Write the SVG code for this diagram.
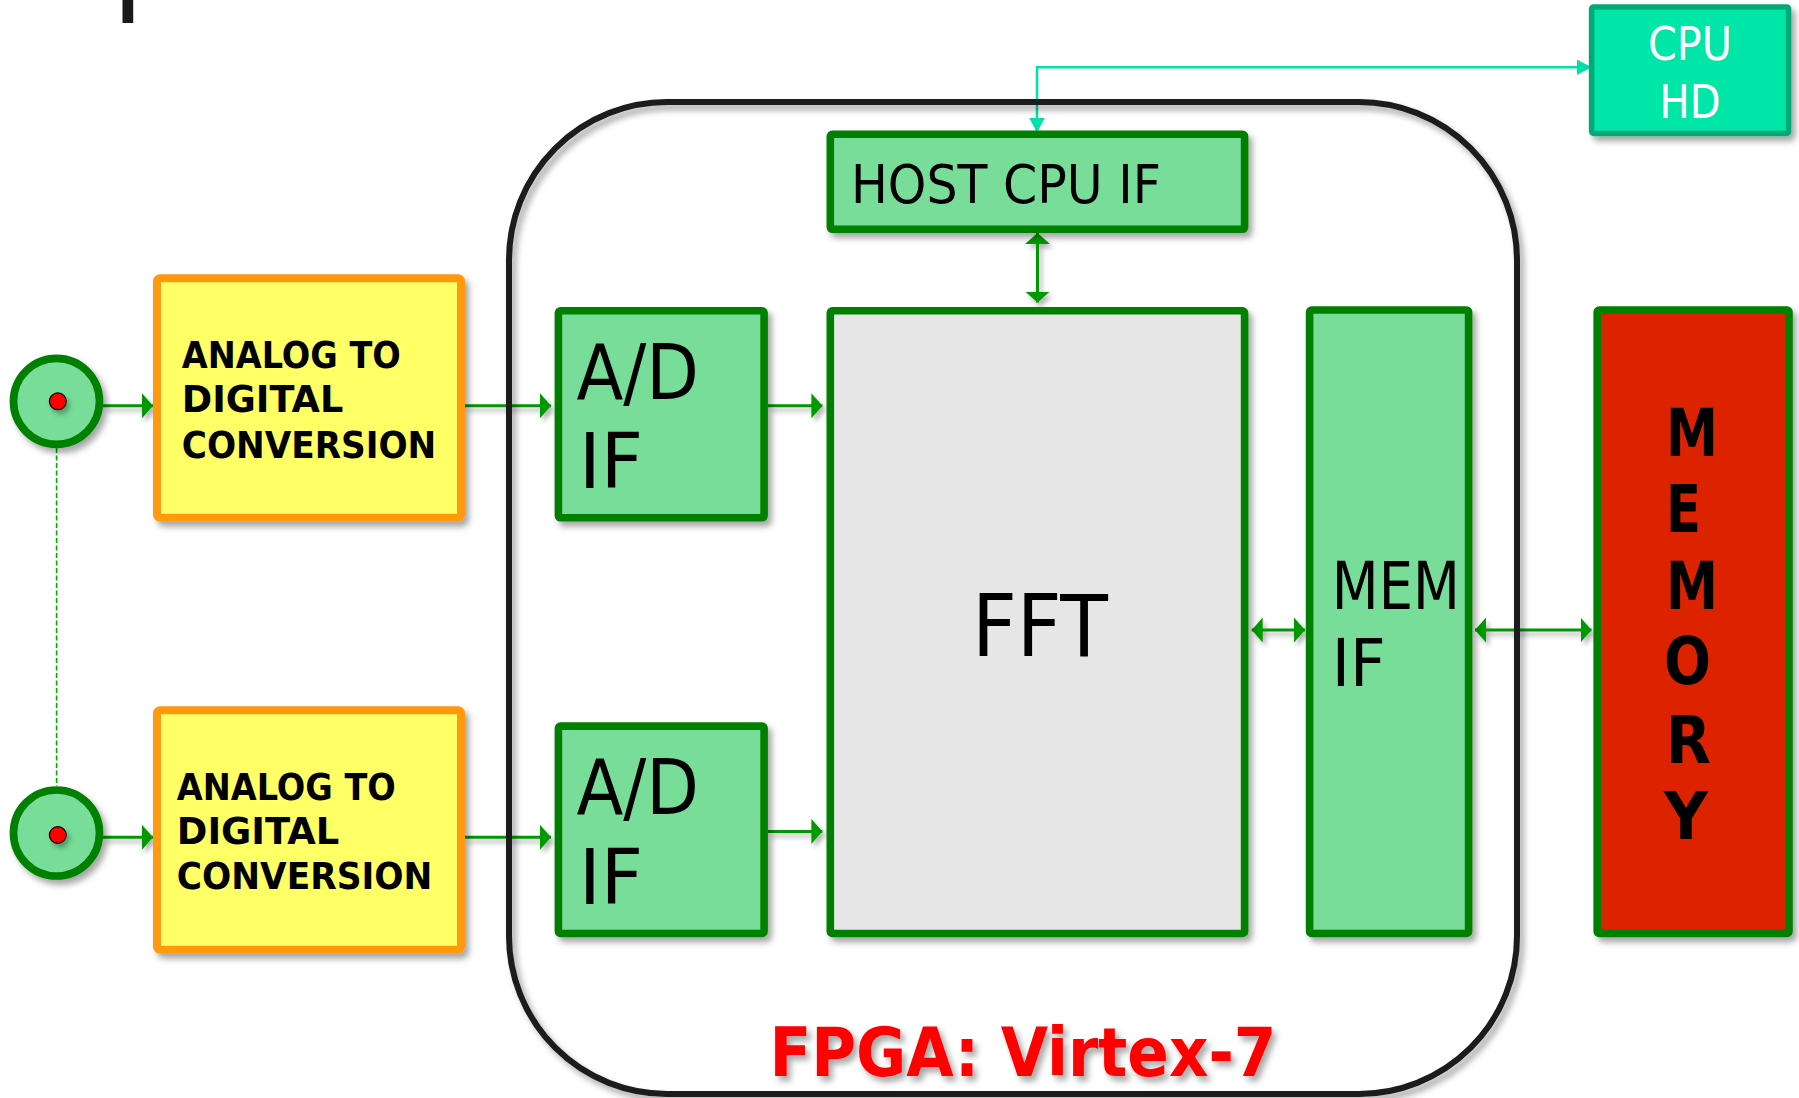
<svg xmlns="http://www.w3.org/2000/svg" width="1799" height="1098" viewBox="0 0 1799 1098">
<defs>
<filter id="sh" x="-20%" y="-20%" width="140%" height="140%">
<feDropShadow dx="4" dy="5" stdDeviation="3" flood-color="#000" flood-opacity="0.35"/>
</filter>
<filter id="shs" filterUnits="userSpaceOnUse" x="0" y="0" width="1799" height="1098">
<feDropShadow dx="3" dy="4" stdDeviation="2.5" flood-color="#000" flood-opacity="0.3"/>
</filter>
<marker id="ag" markerUnits="userSpaceOnUse" viewBox="0 0 11 25" markerWidth="11" markerHeight="25" refX="11" refY="12.5" orient="auto-start-reverse">
<path d="M0,0 L11,12.5 L0,25 z" fill="#009900"/>
</marker>
<marker id="ac" markerUnits="userSpaceOnUse" viewBox="0 0 15 16" markerWidth="15" markerHeight="16" refX="15" refY="8" orient="auto-start-reverse">
<path d="M0,0 L15,8 L0,16 z" fill="#00e0a8"/>
</marker>
</defs>
<style>
.gbox{fill:#77dd99;stroke:#008000;stroke-width:7.6}
.adc{fill:#ffff66;stroke:#ff9911;stroke-width:8}
.conn{fill:none;stroke:#009900;stroke-width:3}
.lbl{font-family:"DejaVu Sans","Liberation Sans",sans-serif;fill:#000}
.bld{font-family:"DejaVu Sans","Liberation Sans",sans-serif;font-weight:bold;fill:#000}
</style>
<rect x="122.5" y="0" width="10.7" height="23" fill="#1a1a1a"/>
<g id="connectors" filter="url(#shs)">
<path class="conn" d="M103,405.8 H153" marker-end="url(#ag)"/>
<path class="conn" d="M103,837.3 H153" marker-end="url(#ag)"/>
<path class="conn" d="M465,405.8 H551" marker-end="url(#ag)"/>
<path class="conn" d="M465,837.3 H551" marker-end="url(#ag)"/>
<path class="conn" d="M768,405.8 H822.4" marker-end="url(#ag)"/>
<path class="conn" d="M768,831.4 H822.4" marker-end="url(#ag)"/>
<path class="conn" d="M1037.5,233 V302.5" marker-start="url(#ag)" marker-end="url(#ag)"/>
<path class="conn" d="M1251.7,630 H1305" marker-start="url(#ag)" marker-end="url(#ag)"/>
<path class="conn" d="M1475,630 H1591.5" marker-start="url(#ag)" marker-end="url(#ag)"/>
</g>
<g id="connectors-plain">
<path d="M1037,132.6 V67.3 H1591.5" fill="none" stroke="#00e0a8" stroke-width="2.5" marker-start="url(#ac)" marker-end="url(#ac)"/>
<path d="M56.6,448 V786" fill="none" stroke="#00aa00" stroke-width="1.6" stroke-dasharray="5 2.5"/>
</g>
<g id="fpga">
<rect x="509" y="102" width="1008" height="992" rx="158" ry="158" fill="none" stroke="#1a1a1a" stroke-width="6" filter="url(#sh)"/>
<text x="769.4" y="1076" font-family="DejaVu Sans,Liberation Sans,sans-serif" font-weight="bold" font-size="67" fill="#ff0000" textLength="507" lengthAdjust="spacingAndGlyphs" filter="url(#sh)">FPGA: Virtex-7</text>
</g>
<g id="in1">
<circle cx="56.5" cy="401.3" r="43" fill="#77dd99" stroke="#008000" stroke-width="7.7" filter="url(#sh)"/>
<circle cx="57.8" cy="401.3" r="8.4" fill="#ff0000" stroke="#000" stroke-width="1.2" filter="url(#shs)"/>
</g>
<g id="in2">
<circle cx="56.5" cy="833" r="43" fill="#77dd99" stroke="#008000" stroke-width="7.7" filter="url(#sh)"/>
<circle cx="57.8" cy="835" r="8.4" fill="#ff0000" stroke="#000" stroke-width="1.2" filter="url(#shs)"/>
</g>
<g id="adc1">
<rect class="adc" x="157" y="278.3" width="304" height="239.5" rx="3" filter="url(#sh)"/>
<text class="bld" font-size="37.5"><tspan x="181.8" y="367.6" textLength="219" lengthAdjust="spacingAndGlyphs">ANALOG TO</tspan><tspan x="181.8" y="412.1" textLength="161.5" lengthAdjust="spacingAndGlyphs">DIGITAL</tspan><tspan x="181.8" y="457.7" textLength="254.5" lengthAdjust="spacingAndGlyphs">CONVERSION</tspan></text>
</g>
<g id="adc2">
<rect class="adc" x="157" y="710.2" width="304" height="239.5" rx="3" filter="url(#sh)"/>
<text class="bld" font-size="37.5"><tspan x="176.8" y="799.9" textLength="219" lengthAdjust="spacingAndGlyphs">ANALOG TO</tspan><tspan x="176.8" y="844.3" textLength="162.5" lengthAdjust="spacingAndGlyphs">DIGITAL</tspan><tspan x="176.8" y="889" textLength="255.5" lengthAdjust="spacingAndGlyphs">CONVERSION</tspan></text>
</g>
<g id="adif1">
<rect class="gbox" x="558.4" y="310.8" width="205.7" height="207" rx="2" filter="url(#sh)"/>
<text class="lbl" font-size="76"><tspan x="576.5" y="398.8" textLength="122.5" lengthAdjust="spacingAndGlyphs">A/D</tspan><tspan x="579" y="487.5" textLength="64" lengthAdjust="spacingAndGlyphs">IF</tspan></text>
</g>
<g id="adif2">
<rect class="gbox" x="558.4" y="726.1" width="205.7" height="207.4" rx="2" filter="url(#sh)"/>
<text class="lbl" font-size="76"><tspan x="576.5" y="813.9" textLength="122.5" lengthAdjust="spacingAndGlyphs">A/D</tspan><tspan x="579" y="903.7" textLength="64" lengthAdjust="spacingAndGlyphs">IF</tspan></text>
</g>
<g id="hostcpuif">
<rect class="gbox" x="830.3" y="134.3" width="414.3" height="95" rx="2" filter="url(#sh)"/>
<text class="lbl" x="851" y="202.7" font-size="53" textLength="310" lengthAdjust="spacingAndGlyphs">HOST CPU IF</text>
</g>
<g id="fft">
<rect x="830.3" y="310.8" width="414.3" height="622.7" rx="2" fill="#e6e6e6" stroke="#008000" stroke-width="7.6" filter="url(#sh)"/>
<text class="lbl" x="972" y="655.6" font-size="85" textLength="136" lengthAdjust="spacingAndGlyphs">FFT</text>
</g>
<g id="memif">
<rect class="gbox" x="1309.6" y="310" width="159" height="623.5" rx="2" filter="url(#sh)"/>
<text class="lbl" font-size="65"><tspan x="1331.8" y="609.4" textLength="128" lengthAdjust="spacingAndGlyphs">MEM</tspan><tspan x="1331.8" y="685.6" textLength="54" lengthAdjust="spacingAndGlyphs">IF</tspan></text>
</g>
<g id="memory">
<rect x="1597.2" y="310" width="191.8" height="623.5" rx="2" fill="#dd2200" stroke="#008000" stroke-width="7.6" filter="url(#sh)"/>
<text class="bld" font-size="65"><tspan x="1666" y="456" textLength="52" lengthAdjust="spacingAndGlyphs">M</tspan><tspan x="1666" y="532.4" textLength="35" lengthAdjust="spacingAndGlyphs">E</tspan><tspan x="1666" y="609.4" textLength="52" lengthAdjust="spacingAndGlyphs">M</tspan><tspan x="1664" y="684" textLength="47" lengthAdjust="spacingAndGlyphs">O</tspan><tspan x="1666" y="762.5" textLength="45" lengthAdjust="spacingAndGlyphs">R</tspan><tspan x="1664" y="839" textLength="44" lengthAdjust="spacingAndGlyphs">Y</tspan></text>
</g>
<g id="cpuhd">
<rect x="1591.6" y="6.9" width="197" height="126.5" rx="2" fill="#00e5a8" stroke="#00aa77" stroke-width="5.5" filter="url(#sh)"/>
<text font-family="DejaVu Sans,Liberation Sans,sans-serif" font-size="47" fill="#ffffff" text-anchor="middle"><tspan x="1690" y="60.3" textLength="84" lengthAdjust="spacingAndGlyphs">CPU</tspan><tspan x="1690" y="117.5" textLength="61" lengthAdjust="spacingAndGlyphs">HD</tspan></text>
</g>
</svg>
